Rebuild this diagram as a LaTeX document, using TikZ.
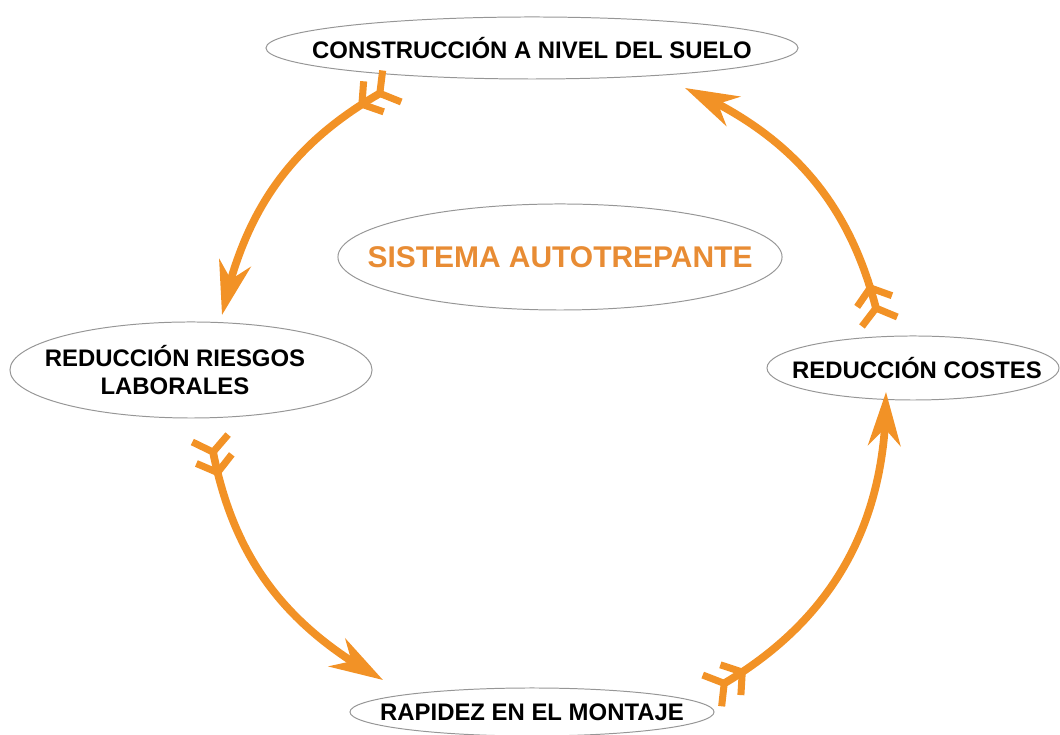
\documentclass[tikz,border=0pt]{standalone}
\usepackage{fontspec}
\setsansfont{Liberation Sans}
\usepackage{tikz}
\usetikzlibrary{shapes.geometric,arrows.meta,bending}

\definecolor{arroworange}{RGB}{242,146,38}
\definecolor{titleorange}{RGB}{232,140,52}
\definecolor{ringgray}{RGB}{150,150,150}

\begin{document}
\begin{tikzpicture}[
    x=0.025cm, y=0.025cm,
    oval/.style={ellipse, draw=ringgray, line width=0.7pt, inner sep=0pt},
    ovaltext/.style={font=\sffamily\bfseries\fontsize{17}{20}\selectfont, align=center},
    cyclearrow/.style={draw=arroworange, line width=5.5pt,
        {Straight Barb[reversed,length=10pt,width=26pt,line width=5pt]Straight Barb[reversed,length=10pt,width=26pt,line width=5pt]}-{Stealth[length=38pt,width=23pt,inset=12pt]}}
]
    \useasboundingbox (0,0) rectangle (1060,735);

    % Top
    \node[oval, minimum width=13.3cm, minimum height=1.55cm,
        label={[ovaltext]center:CONSTRUCCIÓN A NIVEL DEL SUELO}] (ground) at (532,687) {};

    % Centre
    \node[oval, minimum width=11.1cm, minimum height=2.65cm,
        label={[ovaltext, text=titleorange, font=\sffamily\bfseries\fontsize{21.3}{24}\selectfont]center:SISTEMA AUTOTREPANTE}] (system) at (560,478) {};

    % Left
    \node[oval, minimum width=9.05cm, minimum height=2.4cm,
        label={[ovaltext, xshift=-0.4cm]center:REDUCCIÓN RIESGOS\\LABORALES}] (risks) at (191,365) {};

    % Right
    \node[oval, minimum width=7.3cm, minimum height=1.6cm,
        label={[ovaltext, xshift=0.1cm]center:REDUCCIÓN COSTES}] (costs) at (913,367) {};

    % Bottom
    \node[oval, minimum width=9.1cm, minimum height=1.2cm,
        label={[ovaltext]center:RAPIDEZ EN EL MONTAJE}] (speed) at (532,23) {};

    % Arrow ends
    \coordinate (groundout) at (395,650);
    \coordinate (risksin) at (222,420);
    \coordinate (risksout) at (210,300);
    \coordinate (speedin) at (383,55);
    \coordinate (speedout) at (709,43);
    \coordinate (costsin) at (886,343);
    \coordinate (costsout) at (880,410);
    \coordinate (groundin) at (685,647);

    % Arrows
    \draw[cyclearrow] (groundout) to[bend right=25] (risksin);
    \draw[cyclearrow] (risksout) to[bend right=26] (speedin);
    \draw[cyclearrow] (speedout) to[bend right=31] (costsin);
    \draw[cyclearrow] (costsout) to[bend right=27] (groundin);
\end{tikzpicture}
\end{document}
